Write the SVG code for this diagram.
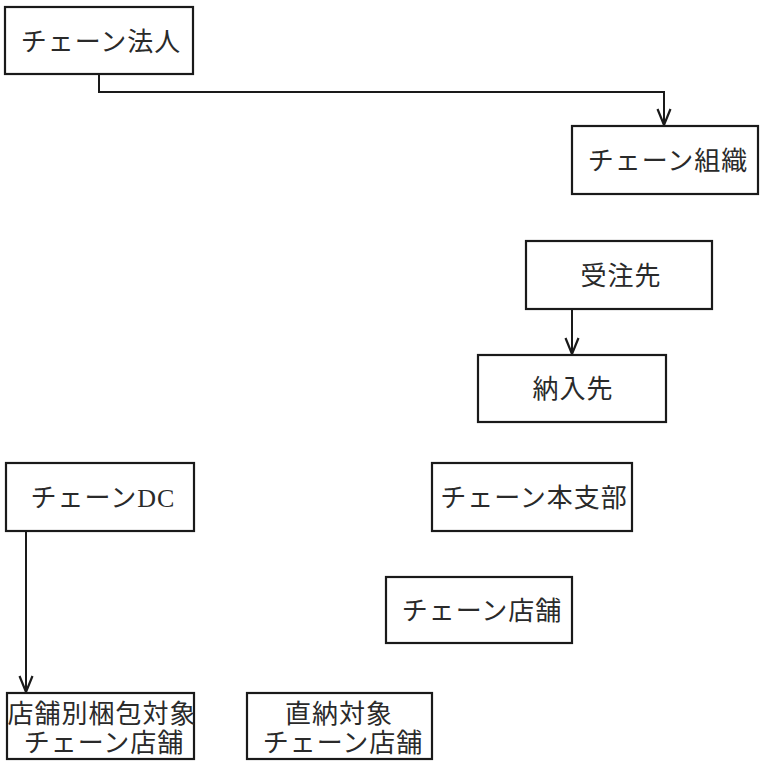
<svg xmlns="http://www.w3.org/2000/svg" width="762" height="774" viewBox="0 0 762 774">
<style>
.box{fill:#fff;stroke:#1a1a1a;stroke-width:2.2}
.lbl{font-family:"Liberation Serif","Noto Sans CJK JP",serif;font-size:26px;letter-spacing:1px;fill:#2a2a2a;text-anchor:middle;dominant-baseline:central}
.edge{fill:none;stroke:#1a1a1a;stroke-width:2}
</style>
<defs>
<marker id="arr" viewBox="0 0 18 16" refX="17" refY="8" markerWidth="18" markerHeight="16" markerUnits="userSpaceOnUse" orient="auto">
<path d="M1,1.5 L17,8 L1,14.5" fill="none" stroke="#1a1a1a" stroke-width="2.2"/>
</marker>
</defs>
<rect width="762" height="774" fill="#fff"/>
<g id="connectors">
<path class="edge" d="M99,74 V92 H664 V125" marker-end="url(#arr)"/>
<path class="edge" d="M572,309 V354" marker-end="url(#arr)"/>
<path class="edge" d="M26,531 V692" marker-end="url(#arr)"/>
</g>
<g id="chain-corp"><rect class="box" x="5" y="7" width="188" height="67"/><text class="lbl" x="101" y="42">チェーン法人</text></g>
<g id="chain-org"><rect class="box" x="572" y="126" width="186" height="68"/><text class="lbl" x="668" y="161">チェーン組織</text></g>
<g id="order-dest"><rect class="box" x="526" y="241" width="186" height="68"/><text class="lbl" x="621" y="276">受注先</text></g>
<g id="delivery-dest"><rect class="box" x="478" y="355" width="188" height="67"/><text class="lbl" x="573" y="389">納入先</text></g>
<g id="chain-dc"><rect class="box" x="6" y="463" width="188" height="68"/><text class="lbl" x="103" y="498">チェーンDC</text></g>
<g id="chain-branch"><rect class="box" x="432" y="463" width="200" height="68"/><text class="lbl" x="534" y="498">チェーン本支部</text></g>
<g id="chain-store"><rect class="box" x="386" y="577" width="186" height="66"/><text class="lbl" x="482" y="611">チェーン店舗</text></g>
<g id="packed-store"><rect class="box" x="7" y="693" width="187" height="66"/><text class="lbl" x="102" y="714" letter-spacing="0">店舗別梱包対象</text><text class="lbl" x="104" y="743">チェーン店舗</text></g>
<g id="direct-store"><rect class="box" x="247" y="693" width="185" height="66"/><text class="lbl" x="339" y="714">直納対象</text><text class="lbl" x="343" y="743">チェーン店舗</text></g>
</svg>
